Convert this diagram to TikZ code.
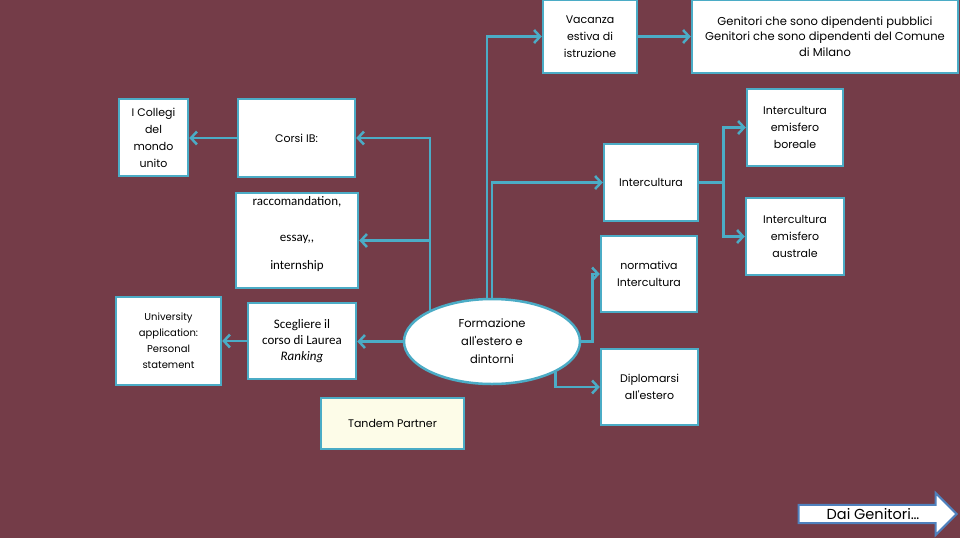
\documentclass[tikz,border=0pt]{standalone}
\usepackage{fontspec}
\setmainfont{Poppins}[Ligatures=TeXOff]
\newfontfamily\calibri{Carlito}
\usetikzlibrary{arrows.meta,shapes.geometric,shapes.arrows}
\definecolor{wine}{RGB}{116,60,72}
\definecolor{aqua}{RGB}{75,172,198}
\definecolor{cream}{RGB}{253,252,232}
\definecolor{steel}{RGB}{79,129,189}

\begin{document}
\begin{tikzpicture}[x=1pt,y=-1pt]
	\tikzstyle{Box} = [rectangle, draw=aqua, line width=2.5pt, fill=white, align=center, inner sep=0pt, font=\fontsize{11}{17}\selectfont]
	\tikzstyle{Oval} = [ellipse, draw=aqua, line width=2.5pt, fill=white, align=center, inner sep=0pt, font=\fontsize{11.5}{18}\selectfont]
	\tikzstyle{arrow} = [draw=aqua, line width=2.5pt, -{Straight Barb[length=6pt,width=13pt]}]

	\useasboundingbox (0,0) rectangle (960,538);
	\fill [wine] (0,0) rectangle (960,538);

	% top row
	\node (vacanza) [Box, minimum width=94pt, minimum height=73pt] at (590,36.5) {Vacanza\\estiva di\\istruzione};
	\node (genitori) [Box, minimum width=266pt, minimum height=73pt, font=\fontsize{11.5}{15.5}\selectfont] at (825,36.5) {Genitori che sono dipendenti pubblici\\Genitori che sono dipendenti del Comune\\di Milano};

	% left column
	\node (collegi) [Box, minimum width=69pt, minimum height=77pt] at (153.5,137.5) {I Collegi\\del\\mondo\\unito};
	\node (corsi) [Box, minimum width=117pt, minimum height=78pt] at (296.5,138) {Corsi IB:};
	\node (racco) [Box, minimum width=122pt, minimum height=95pt, font=\calibri\fontsize{13}{15}\selectfont] at (297,240.5) {raccomandation,\\[21pt]essay,,\\[13pt]internship\\[0pt]\mbox{}};
	\node (univ) [Box, minimum width=105pt, minimum height=88pt, font=\fontsize{10}{16}\selectfont] at (168.5,341) {University\\application:\\Personal\\statement};
	\node (sceg) [Box, minimum width=108pt, minimum height=76pt, font=\calibri\fontsize{13}{16}\selectfont] at (302,341) {Scegliere il\\corso di Laurea\\\textit{Ranking}};

	% centre
	\node (form) [Oval, minimum width=176pt, minimum height=85pt] at (492,341.5) {Formazione\\all'estero e\\dintorni};
	\node (tandem) [Box, fill=cream, minimum width=143pt, minimum height=51pt] at (392.5,423.5) {Tandem Partner};

	% right side
	\node (intercult) [Box, minimum width=94pt, minimum height=77pt] at (651,182.5) {Intercultura};
	\node (normativa) [Box, minimum width=96pt, minimum height=76pt] at (649,274) {normativa\\Intercultura};
	\node (diplom) [Box, minimum width=97pt, minimum height=76pt] at (649.5,387) {Diplomarsi\\all'estero};
	\node (boreale) [Box, minimum width=96pt, minimum height=77pt] at (795,127.5) {Intercultura\\emisfero\\boreale};
	\node (australe) [Box, minimum width=98pt, minimum height=77pt] at (795,236.5) {Intercultura\\emisfero\\australe};

	% connectors
	\draw [arrow] (vacanza) -- (genitori);
	\draw [arrow] (corsi.west) -- (corsi.west -| collegi.east);
	\draw [arrow] (form.153) |- (corsi.east);
	\draw [arrow] (form.153) |- (racco.east);
	\draw [arrow] ([xshift=-5pt]form.north) |- (vacanza.west);
	\draw [arrow] (form.north) |- (intercult.west);
	\draw [arrow] (form.west) -- (form.west -| sceg.east);
	\draw [arrow] (sceg.west) -- (sceg.west -| univ.east);
	\draw [arrow] (form.east) -- ++(11,0) |- (normativa.west);
	\draw [arrow] (form.334) |- (diplom.west);
	\draw [draw=aqua, line width=2.5pt] (intercult.east) -- ++(24,0) coordinate (split);
	\draw [arrow] (split) |- (boreale.west);
	\draw [arrow] (split) |- (australe.west);

	% next slide
	\node (dai) [single arrow, draw=steel, line width=2pt, fill=white, single arrow head extend=11pt, single arrow tip angle=90, minimum width=42pt, minimum height=158pt, inner ysep=2pt, font=\fontsize{14.5}{16}\selectfont, anchor=tip] at (958,514) {Dai Genitori…};
\end{tikzpicture}
\end{document}
